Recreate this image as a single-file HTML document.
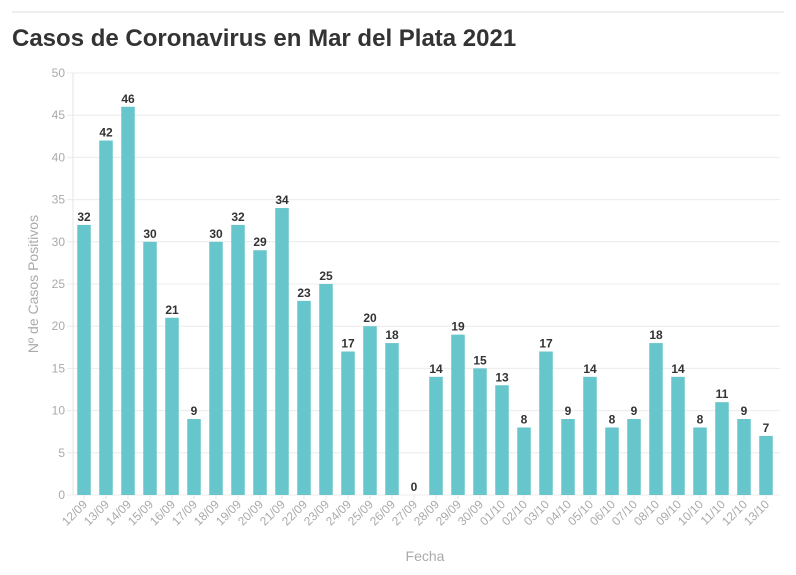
<!DOCTYPE html>
<html><head><meta charset="utf-8"><style>
body{margin:0;background:#fff;font-family:"Liberation Sans",sans-serif}
svg{display:block}
</style></head><body>
<svg width="796" height="575">
<line x1="12" y1="12" x2="784" y2="12" stroke="#ddd" stroke-width="1"/>
<text x="12" y="46" font-size="24" font-weight="bold" fill="#333">Casos de Coronavirus en Mar del Plata 2021</text>
<g id="grid"></g><g id="bars"></g><g id="labels"></g><g id="xt"></g>
<text transform="translate(38,284) rotate(-90)" text-anchor="middle" font-size="14" fill="#aaa">Nº de Casos Positivos</text>
<text x="425" y="561" text-anchor="middle" font-size="14" fill="#aaa">Fecha</text>
</svg>
<script>
const categories=["12/09","13/09","14/09","15/09","16/09","17/09","18/09","19/09","20/09","21/09","22/09","23/09","24/09","25/09","26/09","27/09","28/09","29/09","30/09","01/10","02/10","03/10","04/10","05/10","06/10","07/10","08/10","09/10","10/10","11/10","12/10","13/10"];
const values=[32,42,46,30,21,9,30,32,29,34,23,25,17,20,18,0,14,19,15,13,8,17,9,14,8,9,18,14,8,11,9,7];
const yTicks=[0,5,10,15,20,25,30,35,40,45,50];
const NS="http://www.w3.org/2000/svg";
const x0=73,x1=777,y0=495,yTop=73,yMax=50;
const band=(x1-x0)/categories.length;
const y=v=>y0-(v/yMax)*(y0-yTop);
const xc=i=>x0+band*(i+0.5);
function mk(t,a,p){const e=document.createElementNS(NS,t);for(const k in a)e.setAttribute(k,a[k]);p.appendChild(e);return e;}
const grid=document.getElementById('grid');
yTicks.forEach(t=>{
 const l=mk('line',{x1:x0-6,x2:x1+3,y1:y(t),y2:y(t),stroke:'#ececec'},grid);
 
 
 const tx=mk('text',{x:x0-8,y:y(t)+4,'text-anchor':'end','font-size':'12',fill:'#aaa'},grid);
 tx.textContent=t;
 
 
});
const ax=mk('line',{x1:x0,x2:x0,y1:yTop,y2:y0,stroke:'#e6e6e6'},grid);


const bars=document.getElementById('bars'),labels=document.getElementById('labels'),xt=document.getElementById('xt');
const bw=13.5;
values.forEach((v,i)=>{
 const r=mk('rect',{x:xc(i)-bw/2,y:y(v),width:bw,height:y0-y(v),fill:'#67c5cc'},bars);
 
 
 const t=mk('text',{x:xc(i),y:y(v)-4,'text-anchor':'middle','font-size':'12','font-weight':'bold',fill:'#333'},labels);
 t.textContent=v;
 
 
 const tk=mk('line',{x1:xc(i),x2:xc(i),y1:y0,y2:y0+4,stroke:'#e6e6e6'},xt);
 
 
 const c=mk('text',{transform:`translate(${xc(i)+4},${y0+10}) rotate(-45)`,'text-anchor':'end','font-size':'12',fill:'#aaa'},xt);
 c.textContent=categories[i];
 
 
});
</script>
</body></html>
